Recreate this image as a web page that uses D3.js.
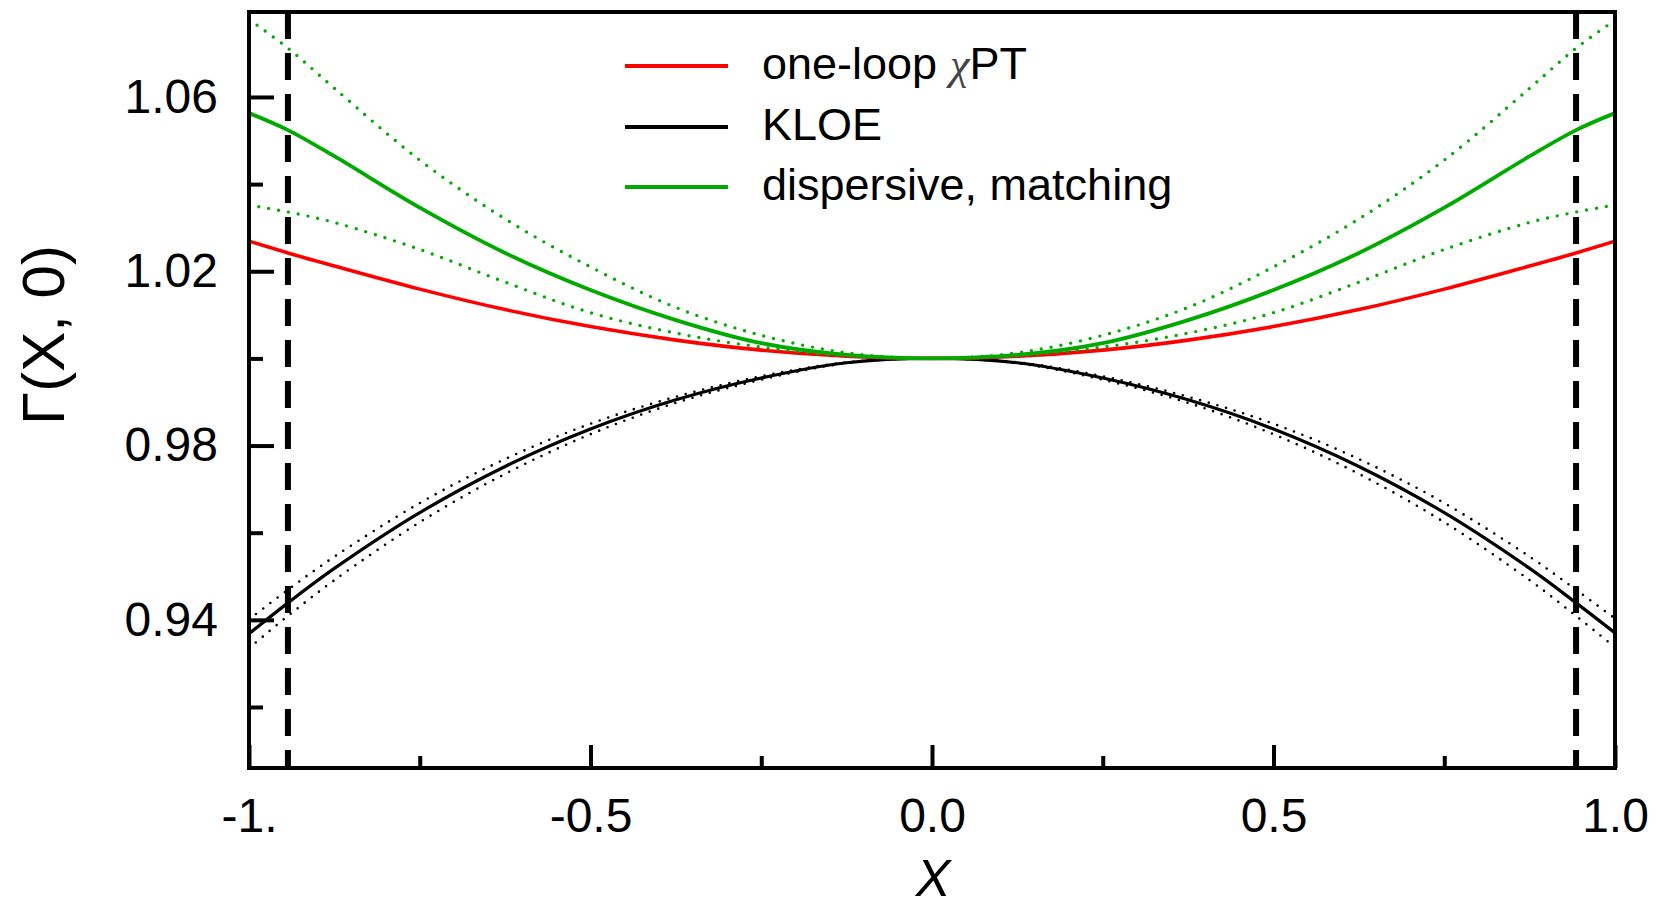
<!DOCTYPE html>
<html>
<head>
<meta charset="utf-8">
<script src="https://cdn.jsdelivr.net/npm/d3@7"></script>
<style>
  html, body { margin: 0; padding: 0; background: #fff; }
  svg { display: block; }
</style>
</head>
<body>
<svg id="chart" width="1663" height="900"></svg>
<script>
// values
var xs = [-1, -0.943, -0.875, -0.75, -0.625, -0.5, -0.375, -0.25, -0.125, 0,
          0.125, 0.25, 0.375, 0.5, 0.625, 0.75, 0.875, 0.943, 1];

var chptValues = [1.0269, 1.0242, 1.0212, 1.0159, 1.0112, 1.0073, 1.0042, 1.0019, 1.0005, 1.0,
                  1.0005, 1.0019, 1.0042, 1.0073, 1.0112, 1.0159, 1.0212, 1.0242, 1.0269];

var kloeValues = [0.9368, 0.9439, 0.9518, 0.9646, 0.9752, 0.9838, 0.9905, 0.9955, 0.9990, 1.0,
                  0.9990, 0.9955, 0.9905, 0.9838, 0.9752, 0.9646, 0.9518, 0.9439, 0.9370];
var kloeUpper = [0.9401, 0.9469, 0.9545, 0.9668, 0.9769, 0.9850, 0.9912, 0.9959, 0.9991, 1.0,
                 0.9991, 0.9959, 0.9912, 0.9850, 0.9769, 0.9668, 0.9545, 0.9469, 0.9403];
var kloeLower = [0.9335, 0.9409, 0.9491, 0.9624, 0.9735, 0.9826, 0.9898, 0.9951, 0.9989, 1.0,
                 0.9989, 0.9951, 0.9898, 0.9826, 0.9735, 0.9624, 0.9491, 0.9409, 0.9337];

var dispValues = [1.0563, 1.0524, 1.0464, 1.0346, 1.0242, 1.0157, 1.0088, 1.0035, 1.0008, 1.0,
                  1.0008, 1.0035, 1.0088, 1.0157, 1.0242, 1.0346, 1.0464, 1.0524, 1.0563];
var dispUpper = [1.0778, 1.0712, 1.0620, 1.0455, 1.0320, 1.0210, 1.0117, 1.0053, 1.0013, 1.0,
                 1.0013, 1.0053, 1.0117, 1.0210, 1.0320, 1.0455, 1.0620, 1.0712, 1.0776];
var dispLower = [1.0352, 1.0336, 1.0312, 1.0250, 1.0175, 1.0105, 1.0058, 1.0026, 1.0006, 1.0,
                 1.0006, 1.0026, 1.0058, 1.0105, 1.0175, 1.0250, 1.0312, 1.0336, 1.0352];

var edgeLines = [-0.943, 0.943];

var xMajor = [-1, -0.5, 0, 0.5, 1];
var xMajorLabels = ['-1.', '-0.5', '0.0', '0.5', '1.0'];
var xMinor = [-0.75, -0.25, 0.25, 0.75];
var yMajor = [0.94, 0.98, 1.02, 1.06];
var yMajorLabels = ['0.94', '0.98', '1.02', '1.06'];
var yMinor = [0.92, 0.96, 1.00, 1.04];

var legendNames = ['one-loop ', 'KLOE', 'dispersive, matching'];
var legendColors = ['#ff0000', '#000000', '#00aa00'];

// layout
var plot = {left: 249, top: 12, right: 1615, bottom: 768};
var font = '"Liberation Sans", Arial, sans-serif';

var svg = d3.select('#chart');

var x = d3.scaleLinear().domain([-1, 1]).range([plot.left, plot.right]);
var y = d3.scaleLinear().domain([0.906, 1.0795]).range([plot.bottom, plot.top]);

svg.append('defs').append('clipPath')
	.attr('id', 'plotclip')
	.append('rect')
	.attr('x', plot.left)
	.attr('y', plot.top)
	.attr('width', plot.right - plot.left)
	.attr('height', plot.bottom - plot.top);

var line = d3.line()
	.x(function(d){ return x(d[0]); })
	.y(function(d){ return y(d[1]); })
	.curve(d3.curveCatmullRom.alpha(0.5));

function pairs(vals){
	return xs.map(function(v, i){ return [v, vals[i]]; });
}

var g = svg.append('g').attr('clip-path', 'url(#plotclip)');

function drawCurve(vals, color, width, dash){
	var p = g.append('path')
		.attr('d', line(pairs(vals)))
		.attr('fill', 'none')
		.attr('stroke', color)
		.attr('stroke-width', width);
	if (dash){
		p.attr('stroke-dasharray', dash).attr('stroke-linecap', 'round');
	}
	return p;
}

// KLOE band + central
drawCurve(kloeUpper, '#000', 2.6, '0 9');
drawCurve(kloeLower, '#000', 2.6, '0 9');
drawCurve(kloeValues, '#000', 3.2);
// chiPT
drawCurve(chptValues, '#ff0000', 3.6);
// dispersive band + central
drawCurve(dispUpper, '#00aa00', 3.4, '0 10');
drawCurve(dispLower, '#00aa00', 3.4, '0 10');
drawCurve(dispValues, '#00aa00', 3.8);

// dashed boundaries
g.selectAll('line.edge')
	.data(edgeLines)
	.enter()
	.append('line')
	.attr('class', 'edge')
	.attr('x1', function(d){ return x(d); })
	.attr('x2', function(d){ return x(d); })
	.attr('y1', plot.top)
	.attr('y2', plot.bottom)
	.attr('stroke', '#000')
	.attr('stroke-width', 6)
	.attr('stroke-dasharray', '27 14');

// frame
svg.append('rect')
	.attr('x', plot.left)
	.attr('y', plot.top)
	.attr('width', plot.right - plot.left)
	.attr('height', plot.bottom - plot.top)
	.attr('fill', 'none')
	.attr('stroke', '#000')
	.attr('stroke-width', 4);

// axes, ticks point inwards
var yAxis = d3.axisLeft(y)
	.tickValues(yMajor)
	.tickFormat(function(d, i){ return yMajorLabels[i]; })
	.tickSize(-25)
	.tickPadding(31);
var yAxisMinor = d3.axisLeft(y).tickValues(yMinor).tickFormat('').tickSize(-14);

var xAxis = d3.axisBottom(x)
	.tickValues(xMajor)
	.tickFormat(function(d, i){ return xMajorLabels[i]; })
	.tickSize(-23)
	.tickPadding(30);
var xAxisMinor = d3.axisBottom(x).tickValues(xMinor).tickFormat('').tickSize(-12);

function styleAxis(sel){
	sel.select('.domain').remove();
	sel.selectAll('.tick line').attr('stroke', '#000').attr('stroke-width', 4);
	sel.selectAll('.tick text')
		.attr('fill', '#000')
		.style('font-family', font)
		.style('font-size', '48px');
}

svg.append('g').attr('transform', 'translate(' + plot.left + ',0)').call(yAxis).call(styleAxis);
svg.append('g').attr('transform', 'translate(' + plot.left + ',0)').call(yAxisMinor).call(styleAxis);
svg.append('g').attr('transform', 'translate(0,' + plot.bottom + ')').call(xAxis).call(styleAxis);
svg.append('g').attr('transform', 'translate(0,' + plot.bottom + ')').call(xAxisMinor).call(styleAxis);

// axis titles
svg.append('text')
	.attr('transform', 'translate(64,335) rotate(-90)')
	.attr('text-anchor', 'middle')
	.style('font-family', font)
	.style('font-size', '60px')
	.text('\u0393(X, 0)');

svg.append('text')
	.attr('x', 933)
	.attr('y', 896)
	.attr('text-anchor', 'middle')
	.style('font-family', font)
	.style('font-size', '52px')
	.style('font-style', 'italic')
	.text('X');

// legend
var legendY = [66, 127, 187];
var leg = svg.append('g');
legendNames.forEach(function(name, i){
	leg.append('line')
		.attr('x1', 625).attr('x2', 728)
		.attr('y1', legendY[i]).attr('y2', legendY[i])
		.attr('stroke', legendColors[i])
		.attr('stroke-width', 4);
	var t = leg.append('text')
		.attr('x', 762)
		.attr('y', legendY[i] + 13)
		.style('font-family', font)
		.style('font-size', '45px')
		.text(name);
	if (i === 0){
		t.append('tspan')
			.style('font-family', '"Liberation Serif", "DejaVu Serif", serif')
			.style('font-style', 'italic')
			.attr('fill', '#444')
			.text('\u03c7');
		t.append('tspan').text('PT');
	}
});
</script>
</body>
</html>
